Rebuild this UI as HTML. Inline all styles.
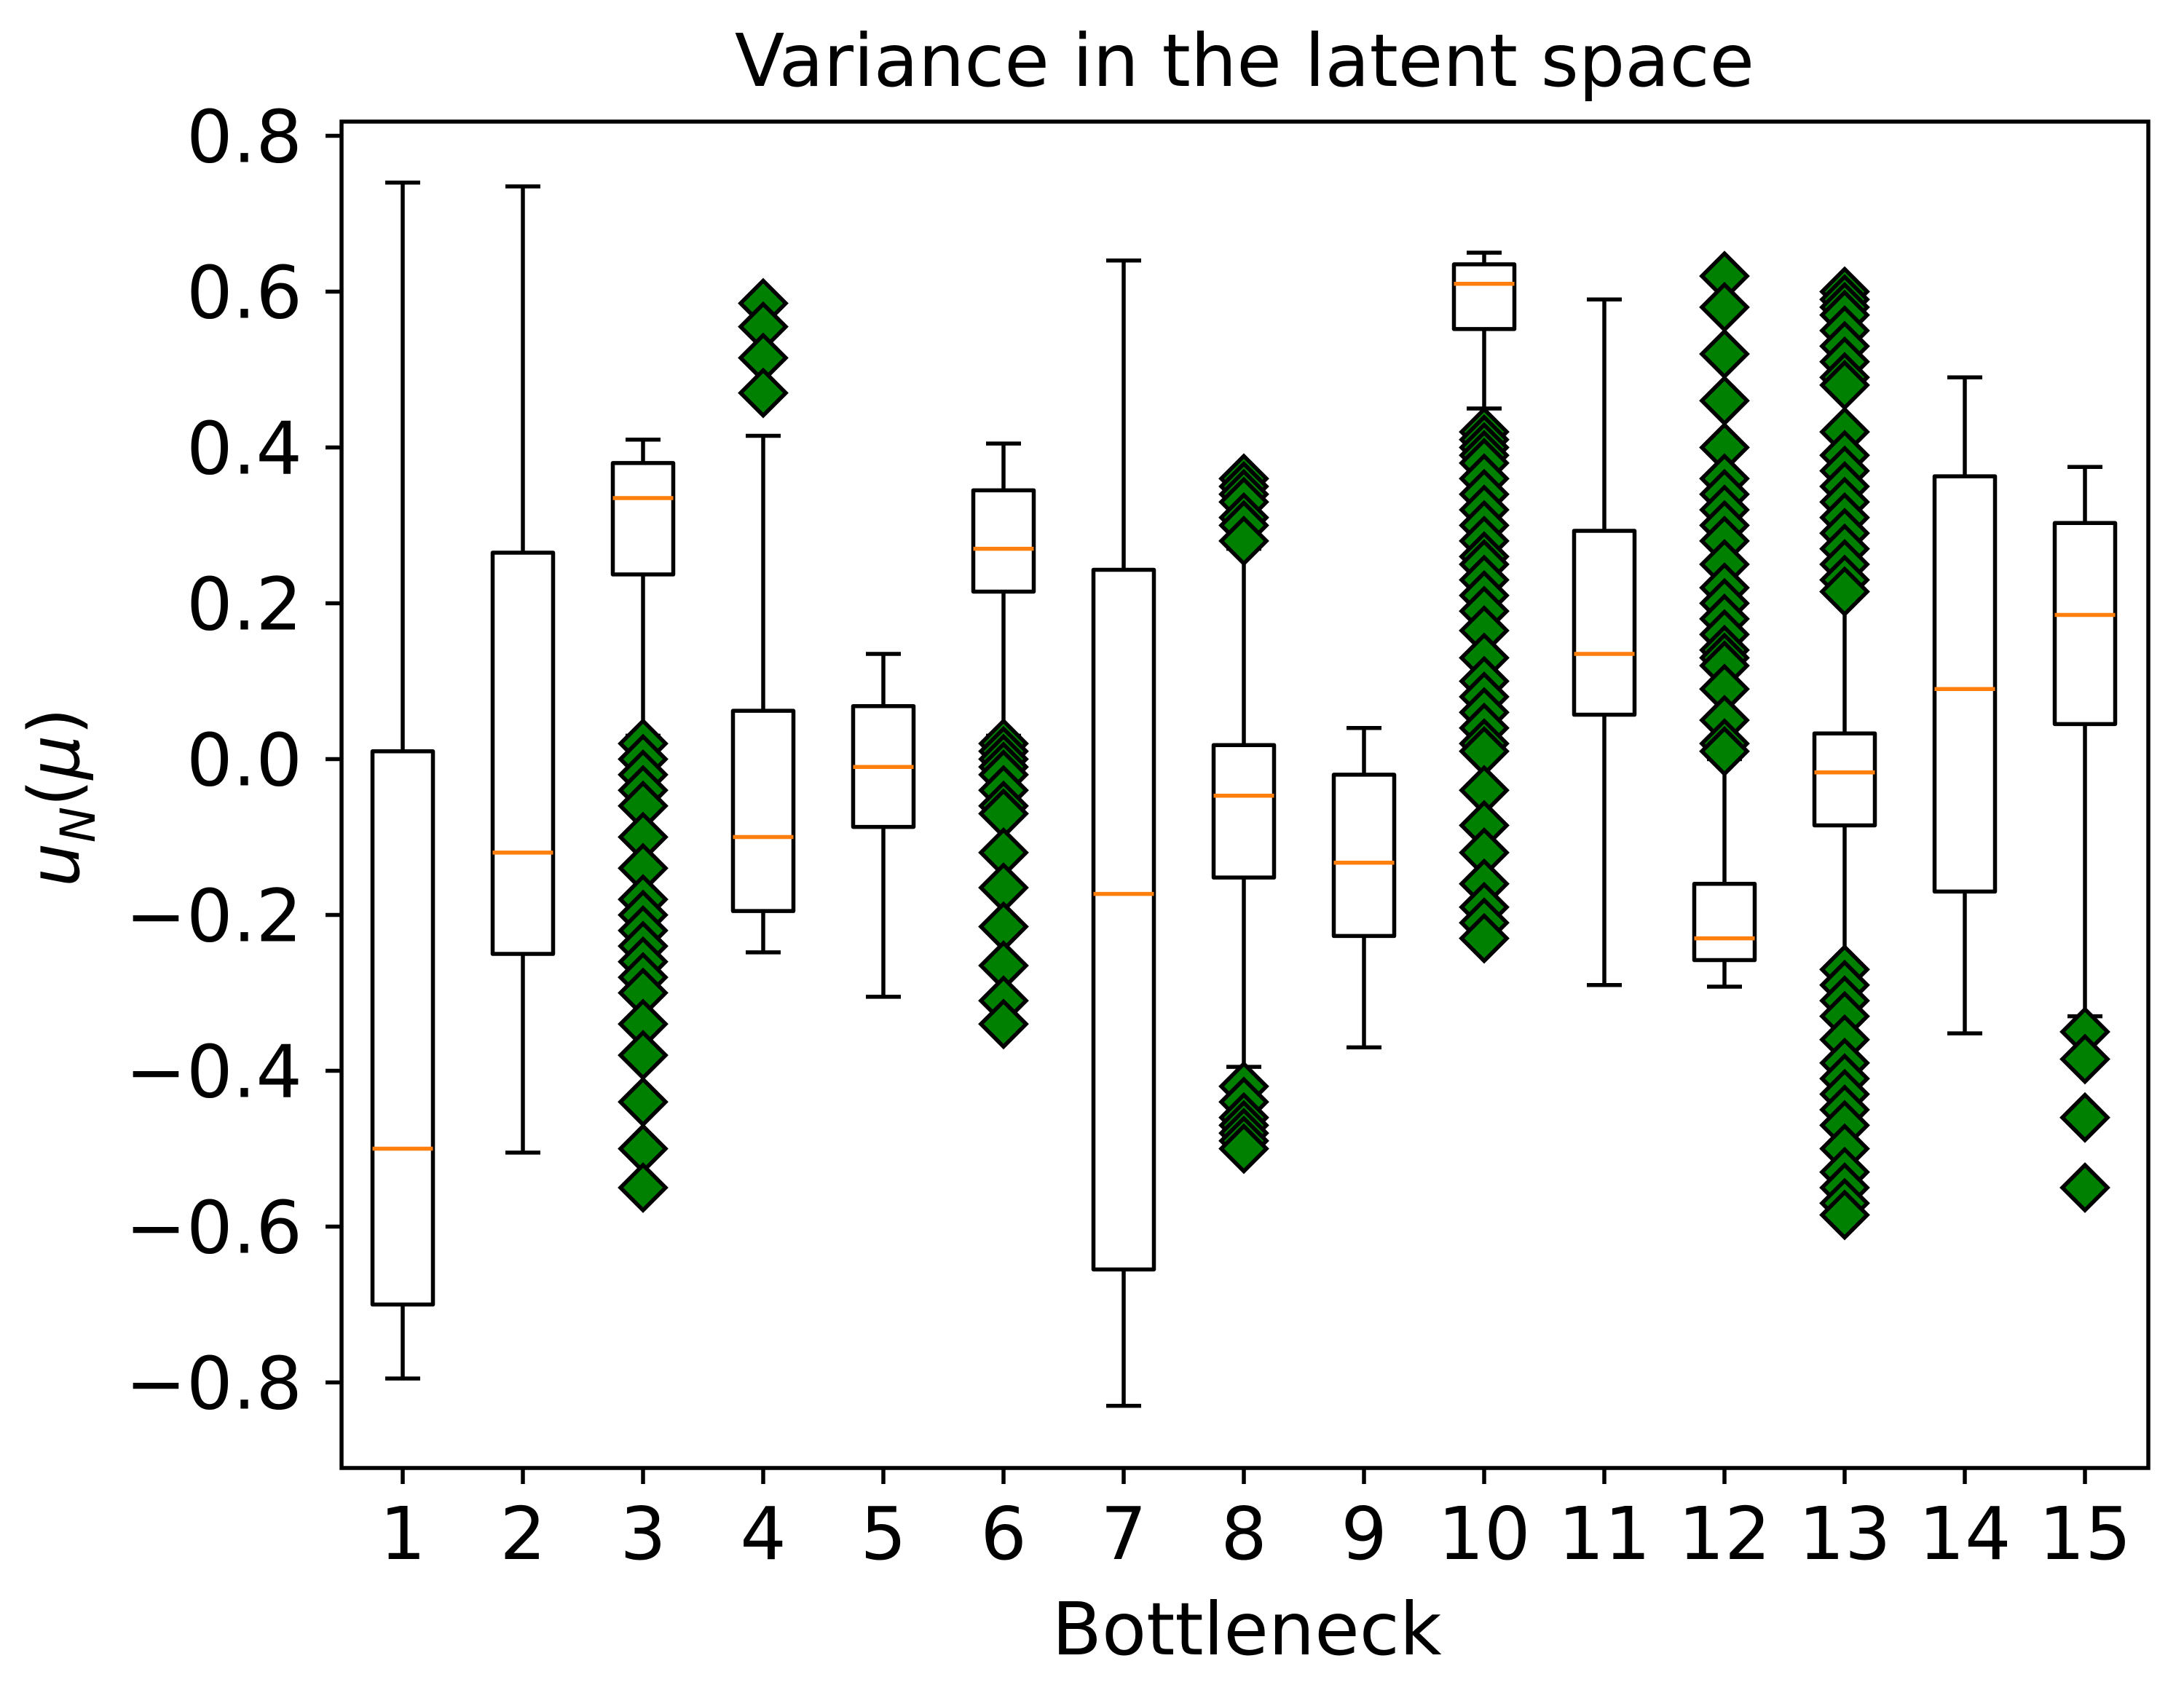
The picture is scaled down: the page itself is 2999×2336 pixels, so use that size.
<!DOCTYPE html>
<html><head><meta charset="utf-8"><style>html,body{margin:0;padding:0;background:#fff}svg{display:block}text{font-family:"DejaVu Sans","Liberation Sans",sans-serif;fill:#000}</style></head>
<body>
<svg id="chart" width="2999" height="2336" viewBox="0 0 2999 2336" xmlns="http://www.w3.org/2000/svg">
<rect width="2999" height="2336" fill="#fff"/>
<text x="1709" y="118" font-size="100" text-anchor="middle">Variance in the latent space</text>
<text x="1712" y="2272" font-size="100" text-anchor="middle">Bottleneck</text>
<text transform="translate(108,1095) rotate(-90)" font-size="96" text-anchor="middle"><tspan font-style="italic">u</tspan><tspan font-style="italic" font-size="66" dy="22">N</tspan><tspan dy="-22">(</tspan><tspan font-style="italic">μ</tspan><tspan>)</tspan></text>
<g id="plot"></g>
</svg>
<script>
const categories=[1,2,3,4,5,6,7,8,9,10,11,12,13,14,15];
const whiskerHigh=[0.74,0.735,0.41,0.415,0.135,0.405,0.64,0.27,0.04,0.65,0.59,0.0,0.21,0.49,0.375];
const q3Values=[0.01,0.265,0.38,0.062,0.068,0.345,0.243,0.018,-0.02,0.635,0.293,-0.16,0.033,0.363,0.303];
const medianValues=[-0.50,-0.12,0.335,-0.10,-0.01,0.27,-0.173,-0.047,-0.133,0.61,0.135,-0.23,-0.017,0.09,0.185];
const q1Values=[-0.70,-0.25,0.237,-0.195,-0.087,0.215,-0.655,-0.152,-0.227,0.552,0.057,-0.258,-0.085,-0.17,0.045];
const whiskerLow=[-0.795,-0.505,0.03,-0.248,-0.305,0.03,-0.83,-0.395,-0.37,0.45,-0.29,-0.292,-0.265,-0.352,-0.33];
const fliers=[[],[],
[0.02,0.0,-0.02,-0.04,-0.06,-0.1,-0.14,-0.18,-0.2,-0.22,-0.24,-0.26,-0.28,-0.3,-0.34,-0.38,-0.44,-0.5,-0.55],
[0.585,0.555,0.515,0.47],[],
[0.02,0.01,0,-0.01,-0.02,-0.04,-0.06,-0.07,-0.12,-0.165,-0.215,-0.265,-0.31,-0.34],[],
[0.36,0.35,0.34,0.33,0.31,0.3,0.28,-0.42,-0.44,-0.46,-0.47,-0.48,-0.49,-0.5],[],
[0.42,0.41,0.4,0.39,0.38,0.36,0.34,0.32,0.3,0.28,0.26,0.25,0.23,0.21,0.19,0.165,0.13,0.1,0.08,0.06,0.04,0.02,0.01,-0.04,-0.085,-0.12,-0.16,-0.19,-0.21,-0.23],[],
[0.62,0.58,0.52,0.46,0.4,0.36,0.34,0.32,0.3,0.28,0.25,0.22,0.2,0.18,0.16,0.14,0.13,0.12,0.09,0.05,0.02,0.01],
[0.6,0.59,0.58,0.57,0.55,0.53,0.51,0.49,0.48,0.42,0.39,0.37,0.35,0.33,0.31,0.29,0.27,0.25,0.23,0.215,-0.27,-0.29,-0.31,-0.33,-0.36,-0.39,-0.41,-0.43,-0.45,-0.47,-0.5,-0.53,-0.55,-0.57,-0.585],
[],[-0.35,-0.385,-0.46,-0.55]];
const yTicks=[0.8,0.6,0.4,0.2,0.0,-0.2,-0.4,-0.6,-0.8];
const yTickLabels=["0.8","0.6","0.4","0.2","0.0","\u22120.2","\u22120.4","\u22120.6","\u22120.8"];

const NS="http://www.w3.org/2000/svg";
const L=469,R=2950,T=167,B=2016;
function xs(c){return 553+(c-1)*165;}
function ys(v){return 1042.5-v*1070;}
const g=document.getElementById('plot');
function mk(tag,attrs){const e=document.createElementNS(NS,tag);for(const k in attrs)e.setAttribute(k,attrs[k]);g.appendChild(e);return e;}
const LW=5.5;
categories.forEach((c,i)=>{
  const x=xs(c);
  const grp=document.createElementNS(NS,'g');
  
  
  g.appendChild(grp);
  function add(tag,attrs){const e=document.createElementNS(NS,tag);for(const k in attrs)e.setAttribute(k,attrs[k]);grp.appendChild(e);return e;}
  let e;
  e=add('line',{x1:x,x2:x,y1:ys(q3Values[i]),y2:ys(whiskerHigh[i]),stroke:'#000','stroke-width':LW});
  
  
  e=add('line',{x1:x,x2:x,y1:ys(q1Values[i]),y2:ys(whiskerLow[i]),stroke:'#000','stroke-width':LW});
  
  
  e=add('line',{x1:x-24,x2:x+24,y1:ys(whiskerHigh[i]),y2:ys(whiskerHigh[i]),stroke:'#000','stroke-width':LW});
  
  
  e=add('line',{x1:x-24,x2:x+24,y1:ys(whiskerLow[i]),y2:ys(whiskerLow[i]),stroke:'#000','stroke-width':LW});
  
  
  e=add('rect',{x:x-41.5,y:ys(q3Values[i]),width:83,height:ys(q1Values[i])-ys(q3Values[i]),fill:'none',stroke:'#000','stroke-width':LW,'stroke-linejoin':'round'});
  
  
  e=add('line',{x1:x-41.5,x2:x+41.5,y1:ys(medianValues[i]),y2:ys(medianValues[i]),stroke:'#ff7f0e','stroke-width':LW});
  
  
  fliers[i].forEach(v=>{
    const y=ys(v),s=31;
    const d=add('polygon',{points:`${x},${y-s} ${x+s},${y} ${x},${y+s} ${x-s},${y}`,fill:'#008000',stroke:'#000','stroke-width':5.5,'stroke-linejoin':'miter'});
    
    
  });
  e=add('line',{x1:x,x2:x,y1:B,y2:B+22,stroke:'#000','stroke-width':LW});
  
  
  e=add('text',{x:x,y:2141,'font-size':100,'text-anchor':'middle'});
  e.textContent=String(c);
  
  
});
yTicks.forEach((v,i)=>{
  const y=ys(v);
  let e=mk('line',{x1:L-22,x2:L,y1:y,y2:y,stroke:'#000','stroke-width':LW});
  
  
  e=mk('text',{x:415,y:y+36,'font-size':100,'text-anchor':'end'});
  e.textContent=yTickLabels[i];
  
  
});
const frame=mk('rect',{x:L,y:T,width:R-L,height:B-T,fill:'none',stroke:'#000','stroke-width':LW});


</script>
</body></html>
